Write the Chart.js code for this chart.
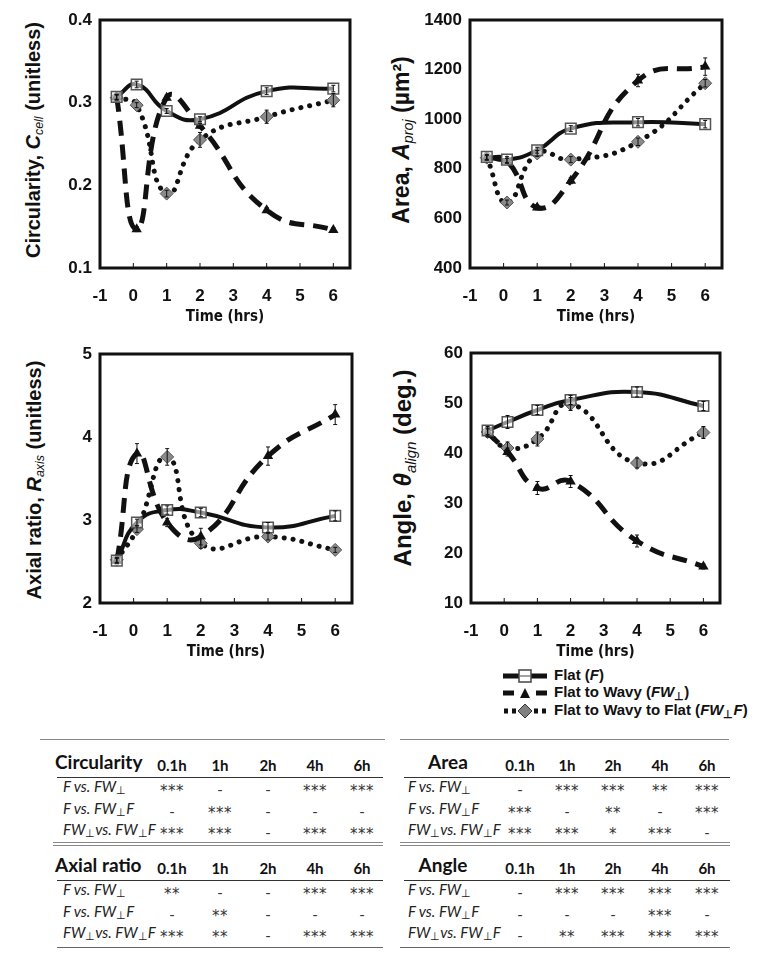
<!DOCTYPE html>
<html>
<head>
<meta charset="utf-8">
<script src="https://cdn.jsdelivr.net/npm/chart.js@4.4.1/dist/chart.umd.min.js"></script>
<style>
body{margin:0;background:#fff;width:764px;height:961px;position:relative;overflow:hidden;font-family:"Liberation Sans",Arial,sans-serif;color:#111;}
canvas{position:absolute;}
.ytitle{position:absolute;transform:translate(-50%,-50%) rotate(-90deg);white-space:nowrap;font-weight:bold;}
.ytitle i{font-weight:bold;}
.ytitle sub{font-size:62%;font-weight:normal;font-style:italic;vertical-align:-0.3em;}
.leg{position:absolute;left:501px;font-weight:bold;font-size:15px;white-space:nowrap;height:18px;line-height:18px;}
.leg svg{vertical-align:middle;margin-right:5px;}
.leg sub{font-size:70%;vertical-align:-0.3em;}
.t{position:absolute;white-space:nowrap;transform:translateY(-50%);}
.hl{position:absolute;height:0;}
.tt{font-family:Lato,"Open Sans",sans-serif;}
.st{font-family:"DejaVu Sans",sans-serif;letter-spacing:0.5px;}
.t sub{font-size:75%;vertical-align:-0.25em;}
</style>
</head>
<body>
<div class="ytitle" style="left:34px;top:140px;font-size:20px;">Circularity, <i>C</i><sub>cell</sub> (unitless)</div>
<div class="ytitle" style="left:402px;top:140px;font-size:23px;">Area, <i>A</i><sub>proj</sub> (µm²)</div>
<div class="ytitle" style="left:35px;top:480px;font-size:20px;">Axial ratio, <i>R</i><sub>axis</sub> (unitless)</div>
<div class="ytitle" style="left:404px;top:468px;font-size:24px;">Angle, <i>θ</i><sub>align</sub> (deg.)</div>

<canvas id="cCirc" width="322" height="330" style="left:60px;top:0px"></canvas>
<canvas id="cArea" width="344" height="330" style="left:410px;top:0px"></canvas>
<canvas id="cAxial" width="324" height="331" style="left:60px;top:334px"></canvas>
<canvas id="cAngle" width="321" height="332" style="left:431px;top:333px"></canvas>

<div class="leg" style="top:666px"><svg width="48" height="16"><line x1="2" y1="8" x2="46" y2="8" stroke="#111" stroke-width="5"/><rect x="18" y="2" width="12" height="12" fill="#fff" stroke="#444" stroke-width="1.5"/><line x1="19" y1="8" x2="29" y2="8" stroke="#444" stroke-width="1"/></svg>Flat (<i>F</i>)</div>
<div class="leg" style="top:683px"><svg width="48" height="16"><line x1="2" y1="8" x2="13" y2="8" stroke="#111" stroke-width="5"/><polygon points="24,3 29,13 19,13" fill="#111"/><line x1="35" y1="8" x2="46" y2="8" stroke="#111" stroke-width="5"/></svg>Flat to Wavy (<i>FW</i><sub>⊥</sub>)</div>
<div class="leg" style="top:701px"><svg width="48" height="16"><line x1="3" y1="8" x2="16" y2="8" stroke="#111" stroke-width="5" stroke-dasharray="4,4"/><polygon points="24,1 31,8 24,15 17,8" fill="#808080" stroke="#333" stroke-width="1"/><line x1="33" y1="8" x2="46" y2="8" stroke="#111" stroke-width="5" stroke-dasharray="4,4"/></svg>Flat to Wavy to Flat (<i>FW</i><sub>⊥</sub><i>F</i>)</div>

<div id="tables"></div>

<script>
// time points (hrs)
var timeHrs = [-0.5, 0.1, 1, 2, 4, 6];

// circularity
var circF   = [0.307, 0.322, 0.290, 0.280, 0.314, 0.317];
var circFW  = [0.307, 0.147, 0.306, 0.272, 0.170, 0.146];
var circFWF = [0.306, 0.297, 0.190, 0.255, 0.283, 0.303];
var circErrF   = [0.003, 0.004, 0.003, 0.003, 0.004, 0.004];
var circErrFW  = [0.003, 0.003, 0.003, 0.003, 0.003, 0.003];
var circErrFWF = [0.003, 0.003, 0.004, 0.009, 0.008, 0.008];

// area
var areaF   = [848, 837, 875, 962, 988, 980];
var areaFW  = [845, 832, 644, 752, 1156, 1212];
var areaFWF = [845, 664, 862, 837, 909, 1145];
var areaErrF   = [10, 12, 12, 12, 15, 15];
var areaErrFW  = [10, 10, 10, 12, 25, 35];
var areaErrFWF = [10, 10, 12, 12, 15, 15];

// axial ratio
var axF   = [2.51, 2.97, 3.12, 3.09, 2.91, 3.05];
var axFW  = [2.51, 3.80, 2.97, 2.80, 3.77, 4.27];
var axFWF = [2.52, 2.89, 3.76, 2.72, 2.80, 2.64];
var axErrF   = [0.03, 0.04, 0.05, 0.05, 0.06, 0.06];
var axErrFW  = [0.03, 0.12, 0.05, 0.10, 0.11, 0.12];
var axErrFWF = [0.03, 0.04, 0.10, 0.06, 0.04, 0.03];

// angle
var angF   = [44.5, 46.2, 48.6, 50.6, 52.2, 49.4];
var angFW  = [44.0, 40.2, 33.0, 34.3, 22.4, 17.3];
var angFWF = [44.2, 41.0, 42.8, 49.8, 38.0, 44.1];
var angErrF   = [0.8, 1.3, 0.9, 0.9, 1.0, 0.9];
var angErrFW  = [0.8, 0.8, 1.3, 1.2, 1.2, 0.5];
var angErrFWF = [0.8, 1.2, 1.4, 1.3, 1.0, 1.2];

// significance tables
var tblCols = ['0.1h', '1h', '2h', '4h', '6h'];
var tblRowLabels = ['<i>F vs. FW</i><sub>⊥</sub>', '<i>F vs. FW</i><sub>⊥</sub><i>F</i>', '<i>FW</i><sub>⊥</sub><i>vs. FW</i><sub>⊥</sub><i>F</i>'];
var sigCirc  = [['***','-','-','***','***'], ['-','***','-','-','-'], ['***','***','-','***','***']];
var sigAxial = [['**','-','-','***','***'], ['-','**','-','-','-'], ['***','**','-','***','***']];
var sigArea  = [['-','***','***','**','***'], ['***','-','**','-','***'], ['***','***','*','***','-']];
var sigAngle = [['-','***','***','***','***'], ['-','-','-','***','-'], ['-','**','***','***','***']];

function pts(vals){
	return timeHrs.map(function(t, i){ return {x:t, y:vals[i]}; });
}

var framePlugin = {
	id:'frame',
	afterDraw:function(chart){
		var a = chart.chartArea, ctx = chart.ctx, xs = chart.scales.x;
		ctx.save();
		ctx.strokeStyle = '#111';
		ctx.lineWidth = 1;
		xs.ticks.forEach(function(t){
			var px = xs.getPixelForValue(t.value);
			ctx.beginPath(); ctx.moveTo(px, a.bottom); ctx.lineTo(px, a.bottom - 5); ctx.stroke();
		});
		ctx.lineWidth = 3;
		ctx.strokeRect(a.left, a.top, a.right - a.left, a.bottom - a.top);
		ctx.restore();
	}
};

var errPlugin = {
	id:'errbars',
	afterDatasetsDraw:function(chart){
		var ctx = chart.ctx, ys = chart.scales.y, xs = chart.scales.x;
		ctx.save();
		ctx.strokeStyle = '#111';
		ctx.lineWidth = 1;
		chart.data.datasets.forEach(function(ds){
			if(!ds.errors) return;
			ds.data.forEach(function(p, i){
				var px = xs.getPixelForValue(p.x);
				var y1 = ys.getPixelForValue(p.y + ds.errors[i]);
				var y2 = ys.getPixelForValue(p.y - ds.errors[i]);
				ctx.beginPath();
				ctx.moveTo(px, y1); ctx.lineTo(px, y2);
				ctx.moveTo(px - 2, y1); ctx.lineTo(px + 2, y1);
				ctx.moveTo(px - 2, y2); ctx.lineTo(px + 2, y2);
				ctx.stroke();
			});
		});
		ctx.restore();
	}
};

function buildChart(id, fv, fwv, fwfv, ef, efw, efwf, yMin, yMax, yStep, dec, yW){
	new Chart(document.getElementById(id), {
		type:'scatter',
		data:{
			datasets:[
				{label:'Flat (F)', data:pts(fv), errors:ef, showLine:true, tension:0.5,
					borderColor:'#111', borderWidth:4,
					pointStyle:'rect', pointRadius:7.5, pointBackgroundColor:'rgba(255,255,255,0.55)',
					pointBorderColor:'#555', pointBorderWidth:1.5},
				{label:'Flat to Wavy', data:pts(fwv), errors:efw, showLine:true, tension:0.5,
					borderColor:'#111', borderWidth:5, borderDash:[15, 9],
					pointStyle:'triangle', pointRadius:6, pointBorderWidth:0,
					pointBackgroundColor:'#111', pointBorderColor:'#111'},
				{label:'Flat to Wavy to Flat', data:pts(fwfv), errors:efwf, showLine:true, tension:0.5,
					borderColor:'#111', borderWidth:5, borderDash:[0.1, 9], borderCapStyle:'round',
					pointStyle:'rectRot', pointRadius:6.5, pointBackgroundColor:'#8a8a8a',
					pointBorderColor:'#555', pointBorderWidth:1}
			]
		},
		options:{
			responsive:false,
			animation:false,
			layout:{padding:{top:20, right:32, left:0, bottom:0}},
			plugins:{legend:{display:false}, tooltip:{enabled:false}},
			scales:{
				x:{
					type:'linear', min:-1, max:6.5,
					afterFit:function(s){ s.height = 62; },
					border:{display:false},
					grid:{display:false, drawTicks:false},
					ticks:{stepSize:1, includeBounds:false, padding:18, color:'#111',
						font:{family:'"Liberation Sans", Arial', weight:'bold', size:17}},
					title:{display:true, text:'Time (hrs)', color:'#111', padding:{top:0, bottom:4},
						font:{family:'"Liberation Sans Narrow", "DejaVu Sans Condensed", sans-serif', weight:'bold', size:15}}
				},
				y:{
					min:yMin, max:yMax,
					afterFit:function(s){ s.width = yW; },
					border:{display:false},
					grid:{display:false, drawTicks:false},
					ticks:{stepSize:yStep, padding:8, color:'#111',
						font:{family:'"Liberation Sans", Arial', weight:'bold', size:17},
						callback:function(v){ return v.toFixed(dec); }}
				}
			}
		},
		plugins:[errPlugin, framePlugin]
	});
}

buildChart('cCirc', circF, circFW, circFWF, circErrF, circErrFW, circErrFWF, 0.1, 0.4, 0.1, 1, 40);
buildChart('cArea', areaF, areaFW, areaFWF, areaErrF, areaErrFW, areaErrFWF, 400, 1400, 200, 0, 60);
buildChart('cAxial', axF, axFW, axFWF, axErrF, axErrFW, axErrFWF, 2, 5, 1, 0, 40);
buildChart('cAngle', angF, angFW, angFWF, angErrF, angErrFW, angErrFWF, 10, 60, 10, 0, 40);

// tables
var box = document.getElementById('tables');
function add(html){ box.insertAdjacentHTML('beforeend', html); }
function hline(x0, x1, y, w, col){
	add('<div class="hl" style="left:'+x0+'px;width:'+(x1-x0)+'px;top:'+y+'px;border-top:'+w+'px solid '+col+'"></div>');
}
function block(title, titleX, titleCenter, y0, colX, labelX, x0, x1, rows){
	var tStyle = titleCenter ? 'left:'+titleX+'px;transform:translate(-50%,-50%);' : 'left:'+titleX+'px;';
	add('<div class="t tt" style="'+tStyle+'top:'+y0+'px;font-weight:bold;font-size:19px">'+title+'</div>');
	tblCols.forEach(function(c, i){
		add('<div class="t tt" style="left:'+colX[i]+'px;top:'+(y0+4)+'px;transform:translate(-50%,-50%);font-weight:bold;font-size:15px">'+c+'</div>');
	});
	hline(x0 + 4, x1, y0 + 16, 1, '#333');
	rows.forEach(function(r, j){
		var ry = y0 + 26 + j * 21.5;
		add('<div class="t tt" style="left:'+labelX+'px;top:'+ry+'px;font-size:15px;color:#222">'+tblRowLabels[j]+'</div>');
		r.forEach(function(s, i){
			var star = s !== '-';
			add('<div class="t '+(star ? 'st' : 'tt')+'" style="left:'+colX[i]+'px;top:'+(ry + (star ? 4 : 2))+'px;transform:translate(-50%,-50%);font-size:15px;color:#333">'+s+'</div>');
		});
	});
}
var leftCols = [172, 220, 268, 315, 362];
var rightCols = [520, 567, 613, 660, 707];
hline(40, 385, 739, 1.5, '#888');
hline(400, 729, 739, 1.5, '#888');
block('Circularity', 55, false, 761, leftCols, 63, 53, 383, sigCirc);
block('Area', 448, true, 761, rightCols, 408, 400, 730, sigArea);
hline(53, 383, 842, 1.5, '#888'); hline(53, 383, 845, 1.5, '#888');
hline(400, 730, 842, 1.5, '#888'); hline(400, 730, 845, 1.5, '#888');
block('Axial ratio', 55, false, 864, leftCols, 63, 53, 383, sigAxial);
block('Angle', 443, true, 864, rightCols, 408, 400, 730, sigAngle);
hline(57, 383, 947, 1.5, '#666');
hline(400, 730, 947, 1.5, '#666');
</script>
</body>
</html>
